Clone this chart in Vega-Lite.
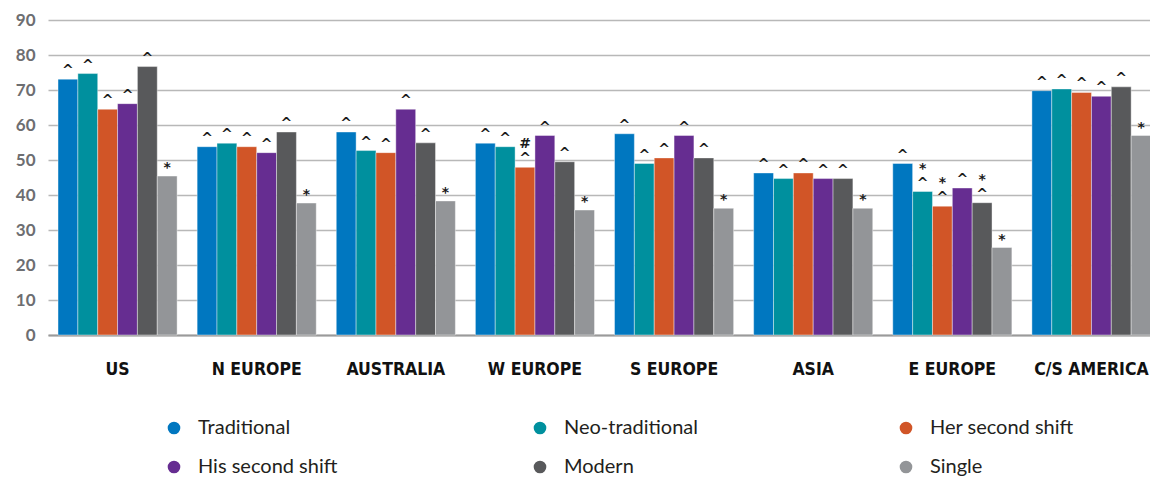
{
  "$schema": "https://vega.github.io/schema/vega-lite/v6.json",
  "width": 1103,
  "height": 315,
  "padding": {"left": 15, "top": 11, "right": 0, "bottom": 0},
  "background": "#ffffff",
  "config": {"view": {"stroke": null}},
  "data": {"values": [
    {"region": "US", "series": "Traditional", "value": 73.1, "note": "^", "note2": ""},
    {"region": "US", "series": "Neo-traditional", "value": 74.7, "note": "^", "note2": ""},
    {"region": "US", "series": "Her second shift", "value": 64.5, "note": "^", "note2": ""},
    {"region": "US", "series": "His second shift", "value": 66.1, "note": "^", "note2": ""},
    {"region": "US", "series": "Modern", "value": 76.7, "note": "^", "note2": ""},
    {"region": "US", "series": "Single", "value": 45.4, "note": "*", "note2": ""},
    {"region": "N EUROPE", "series": "Traditional", "value": 53.8, "note": "^", "note2": ""},
    {"region": "N EUROPE", "series": "Neo-traditional", "value": 54.8, "note": "^", "note2": ""},
    {"region": "N EUROPE", "series": "Her second shift", "value": 53.8, "note": "^", "note2": ""},
    {"region": "N EUROPE", "series": "His second shift", "value": 52.1, "note": "^", "note2": ""},
    {"region": "N EUROPE", "series": "Modern", "value": 58.0, "note": "^", "note2": ""},
    {"region": "N EUROPE", "series": "Single", "value": 37.7, "note": "*", "note2": ""},
    {"region": "AUSTRALIA", "series": "Traditional", "value": 58.0, "note": "^", "note2": ""},
    {"region": "AUSTRALIA", "series": "Neo-traditional", "value": 52.7, "note": "^", "note2": ""},
    {"region": "AUSTRALIA", "series": "Her second shift", "value": 52.1, "note": "^", "note2": ""},
    {"region": "AUSTRALIA", "series": "His second shift", "value": 64.5, "note": "^", "note2": ""},
    {"region": "AUSTRALIA", "series": "Modern", "value": 54.9, "note": "^", "note2": ""},
    {"region": "AUSTRALIA", "series": "Single", "value": 38.3, "note": "*", "note2": ""},
    {"region": "W EUROPE", "series": "Traditional", "value": 54.8, "note": "^", "note2": ""},
    {"region": "W EUROPE", "series": "Neo-traditional", "value": 53.8, "note": "^", "note2": ""},
    {"region": "W EUROPE", "series": "Her second shift", "value": 47.9, "note": "^", "note2": "#"},
    {"region": "W EUROPE", "series": "His second shift", "value": 57.0, "note": "^", "note2": ""},
    {"region": "W EUROPE", "series": "Modern", "value": 49.5, "note": "^", "note2": ""},
    {"region": "W EUROPE", "series": "Single", "value": 35.7, "note": "*", "note2": ""},
    {"region": "S EUROPE", "series": "Traditional", "value": 57.5, "note": "^", "note2": ""},
    {"region": "S EUROPE", "series": "Neo-traditional", "value": 49.0, "note": "^", "note2": ""},
    {"region": "S EUROPE", "series": "Her second shift", "value": 50.6, "note": "^", "note2": ""},
    {"region": "S EUROPE", "series": "His second shift", "value": 57.0, "note": "^", "note2": ""},
    {"region": "S EUROPE", "series": "Modern", "value": 50.6, "note": "^", "note2": ""},
    {"region": "S EUROPE", "series": "Single", "value": 36.2, "note": "*", "note2": ""},
    {"region": "ASIA", "series": "Traditional", "value": 46.3, "note": "^", "note2": ""},
    {"region": "ASIA", "series": "Neo-traditional", "value": 44.7, "note": "^", "note2": ""},
    {"region": "ASIA", "series": "Her second shift", "value": 46.3, "note": "^", "note2": ""},
    {"region": "ASIA", "series": "His second shift", "value": 44.7, "note": "^", "note2": ""},
    {"region": "ASIA", "series": "Modern", "value": 44.7, "note": "^", "note2": ""},
    {"region": "ASIA", "series": "Single", "value": 36.2, "note": "*", "note2": ""},
    {"region": "E EUROPE", "series": "Traditional", "value": 49.0, "note": "^", "note2": ""},
    {"region": "E EUROPE", "series": "Neo-traditional", "value": 41.0, "note": "^", "note2": "*"},
    {"region": "E EUROPE", "series": "Her second shift", "value": 36.8, "note": "^", "note2": "*"},
    {"region": "E EUROPE", "series": "His second shift", "value": 42.0, "note": "^", "note2": ""},
    {"region": "E EUROPE", "series": "Modern", "value": 37.8, "note": "^", "note2": "*"},
    {"region": "E EUROPE", "series": "Single", "value": 25.0, "note": "*", "note2": ""},
    {"region": "C/S AMERICA", "series": "Traditional", "value": 69.8, "note": "^", "note2": ""},
    {"region": "C/S AMERICA", "series": "Neo-traditional", "value": 70.3, "note": "^", "note2": ""},
    {"region": "C/S AMERICA", "series": "Her second shift", "value": 69.3, "note": "^", "note2": ""},
    {"region": "C/S AMERICA", "series": "His second shift", "value": 68.2, "note": "^", "note2": ""},
    {"region": "C/S AMERICA", "series": "Modern", "value": 70.9, "note": "^", "note2": ""},
    {"region": "C/S AMERICA", "series": "Single", "value": 57.0, "note": "*", "note2": ""}
  ]},
  "encoding": {
    "x": {
      "field": "region", "type": "nominal", "sort": null, "title": null,
      "scale": {"paddingInner": 0.144, "paddingOuter": 0.036, "align": 1},
      "axis": {
        "labelAngle": 0, "labelFont": "DejaVu Sans Condensed, DejaVu Sans", "labelFontWeight": "bold",
        "labelFontSize": 17.5, "labelColor": "#111111", "labelPadding": 25,
        "ticks": false, "domain": true, "domainColor": "#9a9a9a", "domainWidth": 2
      }
    },
    "xOffset": {
      "field": "series", "type": "nominal",
      "scale": {"domain": ["Traditional", "Neo-traditional", "Her second shift", "His second shift", "Modern", "Single"], "paddingInner": 0, "paddingOuter": 0}
    },
    "y": {
      "field": "value", "type": "quantitative", "title": null,
      "scale": {"domain": [0, 90], "nice": false},
      "axis": {
        "values": [0, 10, 20, 30, 40, 50, 60, 70, 80, 90],
        "domain": false, "ticks": false,
        "gridColor": "#b8b8b8", "gridWidth": 1.5,
        "labelFont": "Lato", "labelFontWeight": "bold", "labelFontSize": 17,
        "labelColor": "#6d6e71", "labelPadding": 13
      }
    }
  },
  "layer": [
    {
      "mark": {"type": "bar", "stroke": "#ffffff", "strokeWidth": 0.8, "strokeOpacity": 0.5},
      "encoding": {
        "color": {
          "field": "series", "type": "nominal", "title": null,
          "scale": {
            "domain": ["Traditional", "Neo-traditional", "Her second shift", "His second shift", "Modern", "Single"],
            "range": ["#0077c0", "#00909e", "#d15527", "#662d91", "#58595b", "#939598"]
          },
          "legend": {
            "orient": "none", "legendX": 116, "legendY": 398,
            "direction": "horizontal", "columns": 3, "gridAlign": "all",
            "columnPadding": 188, "rowPadding": 19,
            "symbolType": "circle", "symbolSize": 160, "symbolStrokeWidth": 0, "symbolOpacity": 1,
            "labelFont": "Lato", "labelFontSize": 20, "labelColor": "#231f20",
            "labelOffset": 14, "labelLimit": 300
          }
        }
      }
    },
    {
      "mark": {"type": "text", "baseline": "bottom", "dy": -1,
               "font": "DejaVu Sans", "fontWeight": "bold", "fontSize": 14, "color": "#1a1a1a"},
      "encoding": {
        "text": {"field": "note", "type": "nominal"}
      }
    },
    {
      "mark": {"type": "text", "baseline": "bottom", "dy": -16,
               "font": "DejaVu Sans", "fontWeight": "bold", "fontSize": 14, "color": "#1a1a1a"},
      "encoding": {
        "text": {"field": "note2", "type": "nominal"}
      }
    }
  ]
}
